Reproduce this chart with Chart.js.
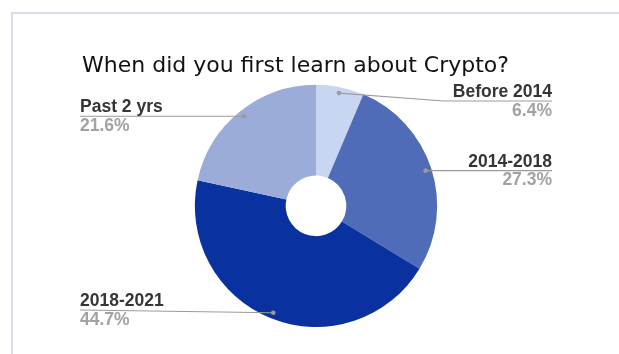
<!DOCTYPE html>
<html>
<head>
<meta charset="utf-8">
<title>Crypto survey</title>
<script src="https://cdn.jsdelivr.net/npm/chart.js@4.4.1/dist/chart.umd.min.js"></script>
<style>
  html, body { margin: 0; padding: 0; background: #fff; }
  /* light frame around the card, open on the right and bottom */
  #frame {
    position: absolute; left: 11px; top: 12px; width: 640px; height: 360px;
    border-top: 2px solid #dcdce7; border-left: 2px solid #dcdce7;
  }
  #wrap { position: absolute; left: 0; top: 0; width: 619px; height: 354px; }
</style>
</head>
<body>
<div id="frame"></div>
<div id="wrap"><canvas id="chartCanvas"></canvas></div>
<script>
const categories = ['Before 2014', '2014-2018', '2018-2021', 'Past 2 yrs'];
const shares = [6.4, 27.3, 44.7, 21.6];
const sliceColors = ['#c9d6f2', '#506cb9', '#0932a0', '#9aacd7'];

// Leader lines with name + percentage at the sides of the doughnut
const calloutPlugin = {
    id: 'callouts',
    afterDatasetsDraw(chart, args, opts) {
        const ctx = chart.ctx;
        const arcs = chart.getDatasetMeta(0).data;
        const values = chart.data.datasets[0].data;

        ctx.save();
        ctx.font = 'bold 17.5px "Liberation Sans", Arial, sans-serif';

        arcs.forEach((arc, i) => {
            const p = arc.getProps(['x', 'y', 'startAngle', 'endAngle', 'outerRadius'], true);
            const mid = (p.startAngle + p.endAngle) / 2;
            const dotX = p.x + Math.cos(mid) * p.outerRadius * 0.95;
            const dotY = p.y + Math.sin(mid) * p.outerRadius * 0.95;
            const onRight = dotX >= p.x;
            const lineY = Math.min(Math.max(dotY, opts.minY), opts.maxY);
            const edge = onRight ? opts.rightX : opts.leftX;

            const name = chart.data.labels[i];
            const pct = values[i].toFixed(1) + '%';
            const nameW = ctx.measureText(name).width;

            // linea guia
            ctx.strokeStyle = '#9b9b9b';
            ctx.lineWidth = 1.2;
            ctx.beginPath();
            ctx.moveTo(dotX, dotY);
            if (Math.abs(lineY - dotY) > 4) {
                const elbowX = onRight ? edge - nameW - 9 : edge + nameW + 9;
                ctx.lineTo(elbowX, lineY);
            }
            ctx.lineTo(edge, lineY);
            ctx.stroke();

            ctx.fillStyle = '#9b9b9b';
            ctx.beginPath();
            ctx.arc(dotX, dotY, 2.3, 0, Math.PI * 2);
            ctx.fill();

            ctx.textAlign = onRight ? 'right' : 'left';
            ctx.textBaseline = 'alphabetic';
            ctx.fillStyle = '#353535';
            ctx.fillText(name, edge, lineY - 4);
            ctx.fillStyle = '#a2a2a2';
            ctx.fillText(pct, edge, lineY + 14.5);
        });

        ctx.restore();
    }
};

function loadSurveyChart() {
    const chartCanvas = document.getElementById('chartCanvas');

    new Chart(chartCanvas, {
        type: 'doughnut',
        data: {
            labels: categories,
            datasets: [{
                data: shares,
                backgroundColor: sliceColors,
                borderWidth: 0,
                hoverOffset: 0
            }]
        },
        options: {
            responsive: true,
            maintainAspectRatio: false,
            animation: false,
            cutout: '25%',
            layout: {
                padding: { top: 0, left: 82, right: 69, bottom: 27 }
            },
            plugins: {
                legend: { display: false },
                tooltip: { enabled: false },
                title: {
                    display: true,
                    text: 'When did you first learn about Crypto?',
                    align: 'start',
                    color: '#111',
                    font: { family: '"DejaVu Sans", Verdana, sans-serif', size: 22, weight: 'normal' },
                    padding: { top: 53.5, bottom: 4.8 }
                },
                callouts: { leftX: 80, rightX: 552, minY: 101, maxY: 310 }
            }
        },
        plugins: [calloutPlugin]
    });
}

loadSurveyChart();
</script>
</body>
</html>
